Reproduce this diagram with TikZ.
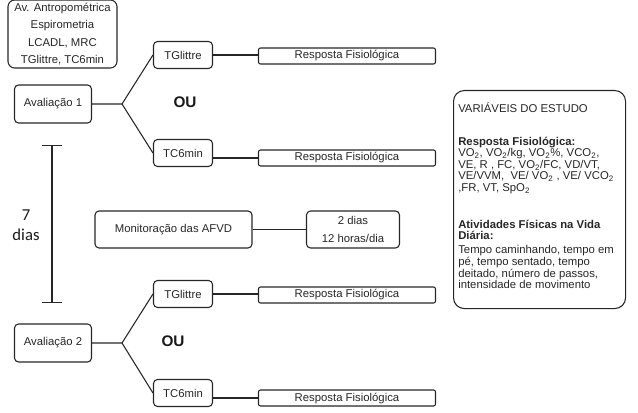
\documentclass[tikz,border=0pt]{standalone}
\usepackage{fontspec}
\setmainfont{Liberation Sans}
\newfontfamily\calibri{Carlito}
\usetikzlibrary{arrows.meta}

\begin{document}
\begin{tikzpicture}[
      x=0.75pt, y=-0.75pt,
      box/.style={draw=black!85, line width=0.8pt, rounded corners=3pt, inner sep=0pt,
                  font=\fontsize{8.5}{13}\selectfont, align=center, text=black!85},
      avbox/.style={box, minimum width=57.75pt, minimum height=28.5pt},
      testbox/.style={box, minimum width=44.25pt, minimum height=20.25pt},
      resbox/.style={box, rounded corners=1.5pt, minimum width=132.75pt, minimum height=12pt},
      link/.style={draw=black!85, line width=0.8pt},
      ou/.style={font=\fontsize{11.5}{13}\selectfont\bfseries, text=black!90}
    ]
      \useasboundingbox (0,0) rectangle (638,413);
      % exames iniciais
      \node[box, rounded corners=5pt, minimum width=81.75pt, minimum height=51pt] (exams) at (62.5,34)
        {Av. Antropométrica\\Espirometria\\LCADL, MRC\\TGlittre, TC6min};
      % as duas avaliacoes
      \foreach \n/\ya/\yt/\yc/\xo in {1/104/55/153/185, 2/343/294/393/173} {
        \node[avbox] (aval\n) at (53,\ya) {Avaliação \n};
        \coordinate (fork\n) at (122,\ya);
        \node[testbox] (tgl\n) at (183,\yt) {TGlittre};
        \node[testbox] (tc\n) at (183,\yc) {TC6min};
        \node[ou] (ou\n) at (\xo,\ya-2) {OU};
        \node[resbox] (rfa\n) at (347,\yt+1) {Resposta Fisiológica};
        \node[resbox] (rfb\n) at (347,\yc+5) {Resposta Fisiológica};
        \draw[link] (aval\n) -- (fork\n) -- (tgl\n.west);
        \draw[link] (fork\n) -- (tc\n.west);
        \draw[link] (tgl\n.east) -- (tgl\n.east -| rfa\n.west);
        \draw[link] (tc\n.east |- rfb\n.west) -- (rfb\n.west);
      }
      % intervalo
      \node[font=\calibri\fontsize{12.5}{15}\selectfont, align=center, text=black!90] (semana) at (26,225) {7\\dias};
      \coordinate (bartop) at (52,145);
      \coordinate (barbot) at (52,303);
      \draw[link, {Bar[width=15pt]}-{Bar[width=15pt]}] (bartop) -- (barbot);
      % monitoracao
      \node[box, minimum width=117.75pt, minimum height=27.75pt] (afvd) at (173.5,229.5) {Monitoração das AFVD};
      \node[box, minimum width=69.75pt, minimum height=27.75pt] (dias) at (353,229.5) {2 dias\\12 horas/dia};
      \draw[link] (afvd) -- (dias);
      % variaveis
      \node[box, rounded corners=8pt, anchor=north west, minimum width=129pt, minimum height=163.5pt] (vars) at (453,90) {};
      \node[anchor=north west, inner sep=0pt, align=left, text=black!85,
            font=\fontsize{8.5}{8.7}\selectfont] (varstext) at (458,102)
        {VARIÁVEIS DO ESTUDO\\[16pt]
         \textbf{Resposta Fisiológica:}\\
         VO\textsubscript{2}, VO\textsubscript{2}/kg, VO\textsubscript{2}\%, VCO\textsubscript{2},\\
         VE, R , FC, VO\textsubscript{2}/FC, VD/VT,\\
         VE/VVM,\ \ VE/ VO\textsubscript{2} , VE/ VCO\textsubscript{2}\\
         ,FR, VT, SpO\textsubscript{2}\\[19pt]
         \textbf{Atividades Físicas na Vida}\\
         \textbf{Diária:}\\[1.8pt]
         Tempo caminhando, tempo em\\
         pé, tempo sentado, tempo\\
         deitado, número de passos,\\
         intensidade de movimento};
    \end{tikzpicture}
\end{document}
